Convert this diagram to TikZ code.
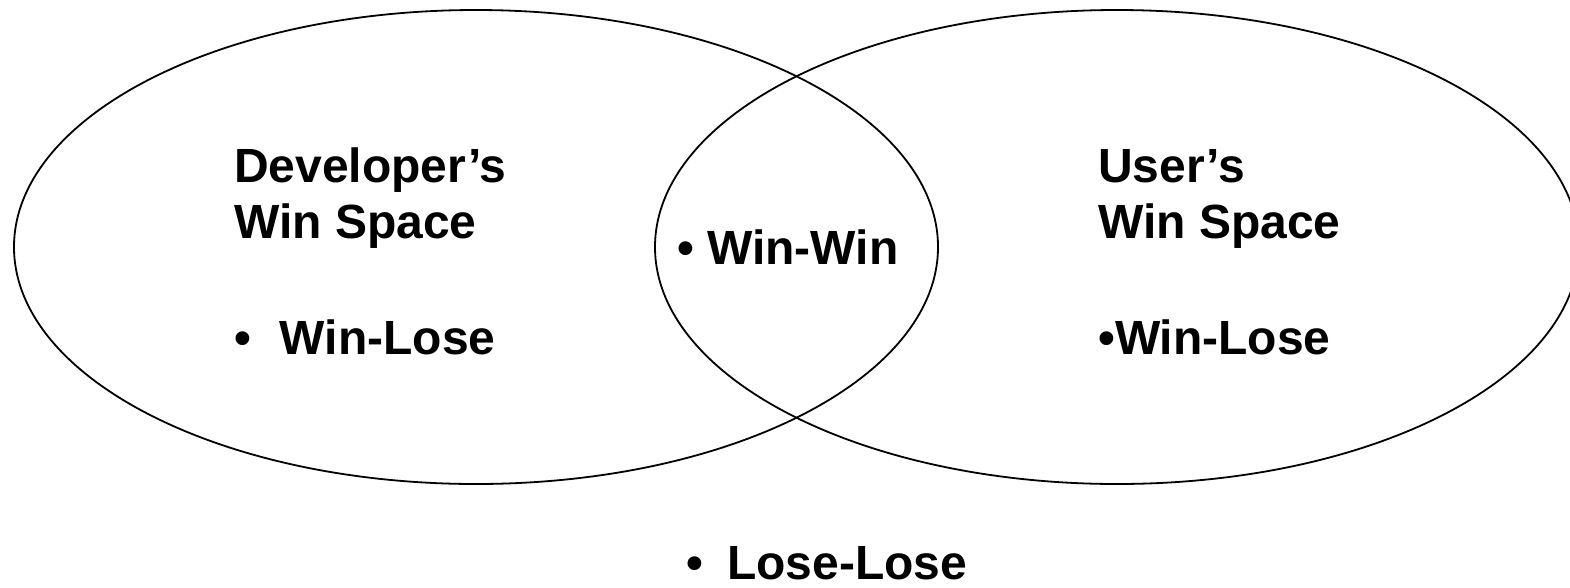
\documentclass[tikz,border=0pt]{standalone}
\usepackage{fontspec}
\setmainfont{Liberation Sans}
\usetikzlibrary{shapes.geometric,positioning}

\begin{document}
\begin{tikzpicture}[x=1pt, y=-1pt,
    winset/.style={ellipse, draw, line width=1.8pt, minimum width=924pt, minimum height=474pt, inner sep=0pt},
    spacetext/.style={font=\fontsize{48}{58}\selectfont\bfseries, inner sep=0pt, anchor=base west}]
    \useasboundingbox (0,0) rectangle (1570,587);

    \node[winset] (devset) at (476,247) {};
    \node[winset] (userset) at (1117,247) {};

    \node[spacetext] (devtitle) at (234,182) {Developer’s};
    \node[spacetext] (devspace) at (234,238) {Win Space};
    \node[spacetext] (devlose) at (234,354) {•\hspace{29pt}Win-Lose};

    \node[spacetext] (winwin) at (677,264) {• Win-Win};

    \node[spacetext] (usertitle) at (1098,182) {User’s};
    \node[spacetext] (userspace) at (1098,238) {Win Space};
    \node[spacetext] (userlose) at (1098,354) {•Win-Lose};

    \node[spacetext] (loselose) at (686,579) {•\hspace{24pt}Lose-Lose};
\end{tikzpicture}
\end{document}
